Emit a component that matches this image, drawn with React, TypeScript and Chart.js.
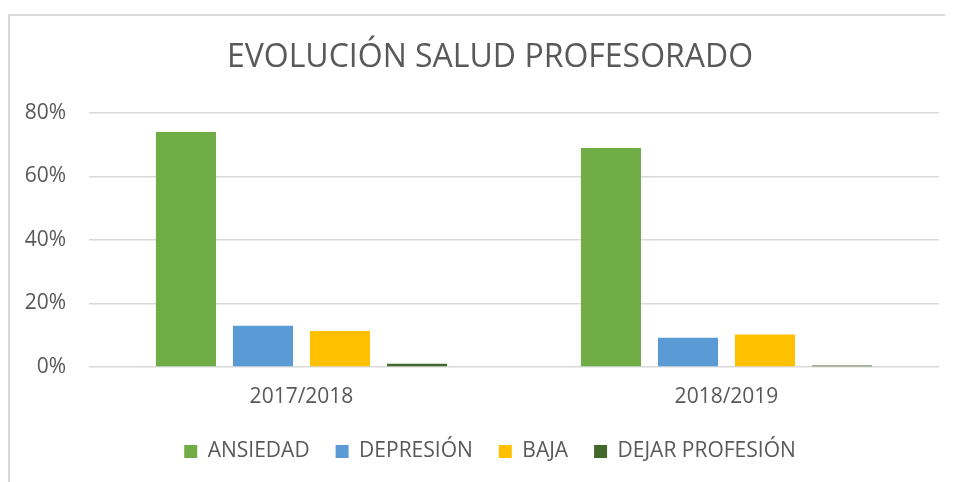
import React, { useEffect, useRef } from "react";
import { Chart, registerables } from "chart.js";

Chart.register(...registerables);

const categories = ["2017/2018", "2018/2019"];
const seriesNames = ["ANSIEDAD", "DEPRESIÓN", "BAJA", "DEJAR PROFESIÓN"];
const ansiedad = [74, 69];
const depresion = [13, 9.2];
const baja = [11.3, 10.2];
const dejarProfesion = [1.0, 0.5];
const seriesColors = ["#70AD47", "#5B9BD5", "#FFC000", "#43682B"];
const yTicks = [0, 20, 40, 60, 80];
const titleText = "EVOLUCIÓN SALUD PROFESORADO";

const FONT = "'Open Sans', 'Noto Sans', sans-serif";
const TEXT = "#595959";

export default function App() {
  const ref = useRef<HTMLCanvasElement | null>(null);

  useEffect(() => {
    if (!ref.current) return;
    const values = [ansiedad, depresion, baja, dejarProfesion];
    const chart = new Chart(ref.current, {
      type: "bar",
      data: {
        labels: categories,
        datasets: seriesNames.map((name, i) => ({
          label: name,
          data: values[i],
          backgroundColor: seriesColors[i],
          borderWidth: 0,
          categoryPercentage: 0.725,
          barPercentage: 0.78,
        })),
      },
      options: {
        animation: false,
        responsive: false,
        maintainAspectRatio: false,
        layout: { padding: { left: 0, right: 0, top: 0, bottom: 10 } },
        plugins: {
          title: {
            display: true,
            text: titleText,
            color: TEXT,
            font: { family: FONT, size: 32, weight: "normal" },
            padding: { top: 23, bottom: 35.6 },
          },
          legend: {
            position: "bottom",
            labels: {
              color: TEXT,
              font: { family: FONT, size: 21 },
              boxWidth: 13,
              boxHeight: 13,
              padding: 26,
            },
          },
          tooltip: { enabled: false },
        },
        scales: {
          x: {
            grid: { display: false, drawTicks: false },
            border: { display: false },
            ticks: {
              color: TEXT,
              font: { family: FONT, size: 21 },
              padding: 17,
            },
            afterFit: (s: any) => {
              s.height = 48;
            },
          },
          y: {
            min: 0,
            max: 80,
            grid: { color: "#d9d9d9", lineWidth: 1.5, drawTicks: false },
            border: { display: false },
            afterBuildTicks: (s: any) => {
              s.ticks = yTicks.map((v) => ({ value: v }));
            },
            ticks: {
              color: TEXT,
              font: { family: FONT, size: 21 },
              padding: 23,
              callback: (v: any) => v + "%",
            },
            afterFit: (s: any) => {
              s.width = 79;
            },
          },
          yRight: {
            position: "right",
            min: 0,
            max: 80,
            grid: { display: false, drawTicks: false },
            border: { display: false },
            ticks: { display: false },
            afterFit: (s: any) => {
              s.width = 31;
            },
          },
        },
      },
    });
    return () => chart.destroy();
  }, []);

  return (
    <div style={{ paddingTop: 6 }}>
      <div
        style={{
          borderLeft: "2px solid #d9d9d9",
          borderTop: "2px solid #d9d9d9",
          width: 943,
          height: 466,
          overflow: "hidden",
        }}
      >
        <canvas ref={ref} width={960} height={466} style={{ display: "block" }} />
      </div>
    </div>
  );
}
